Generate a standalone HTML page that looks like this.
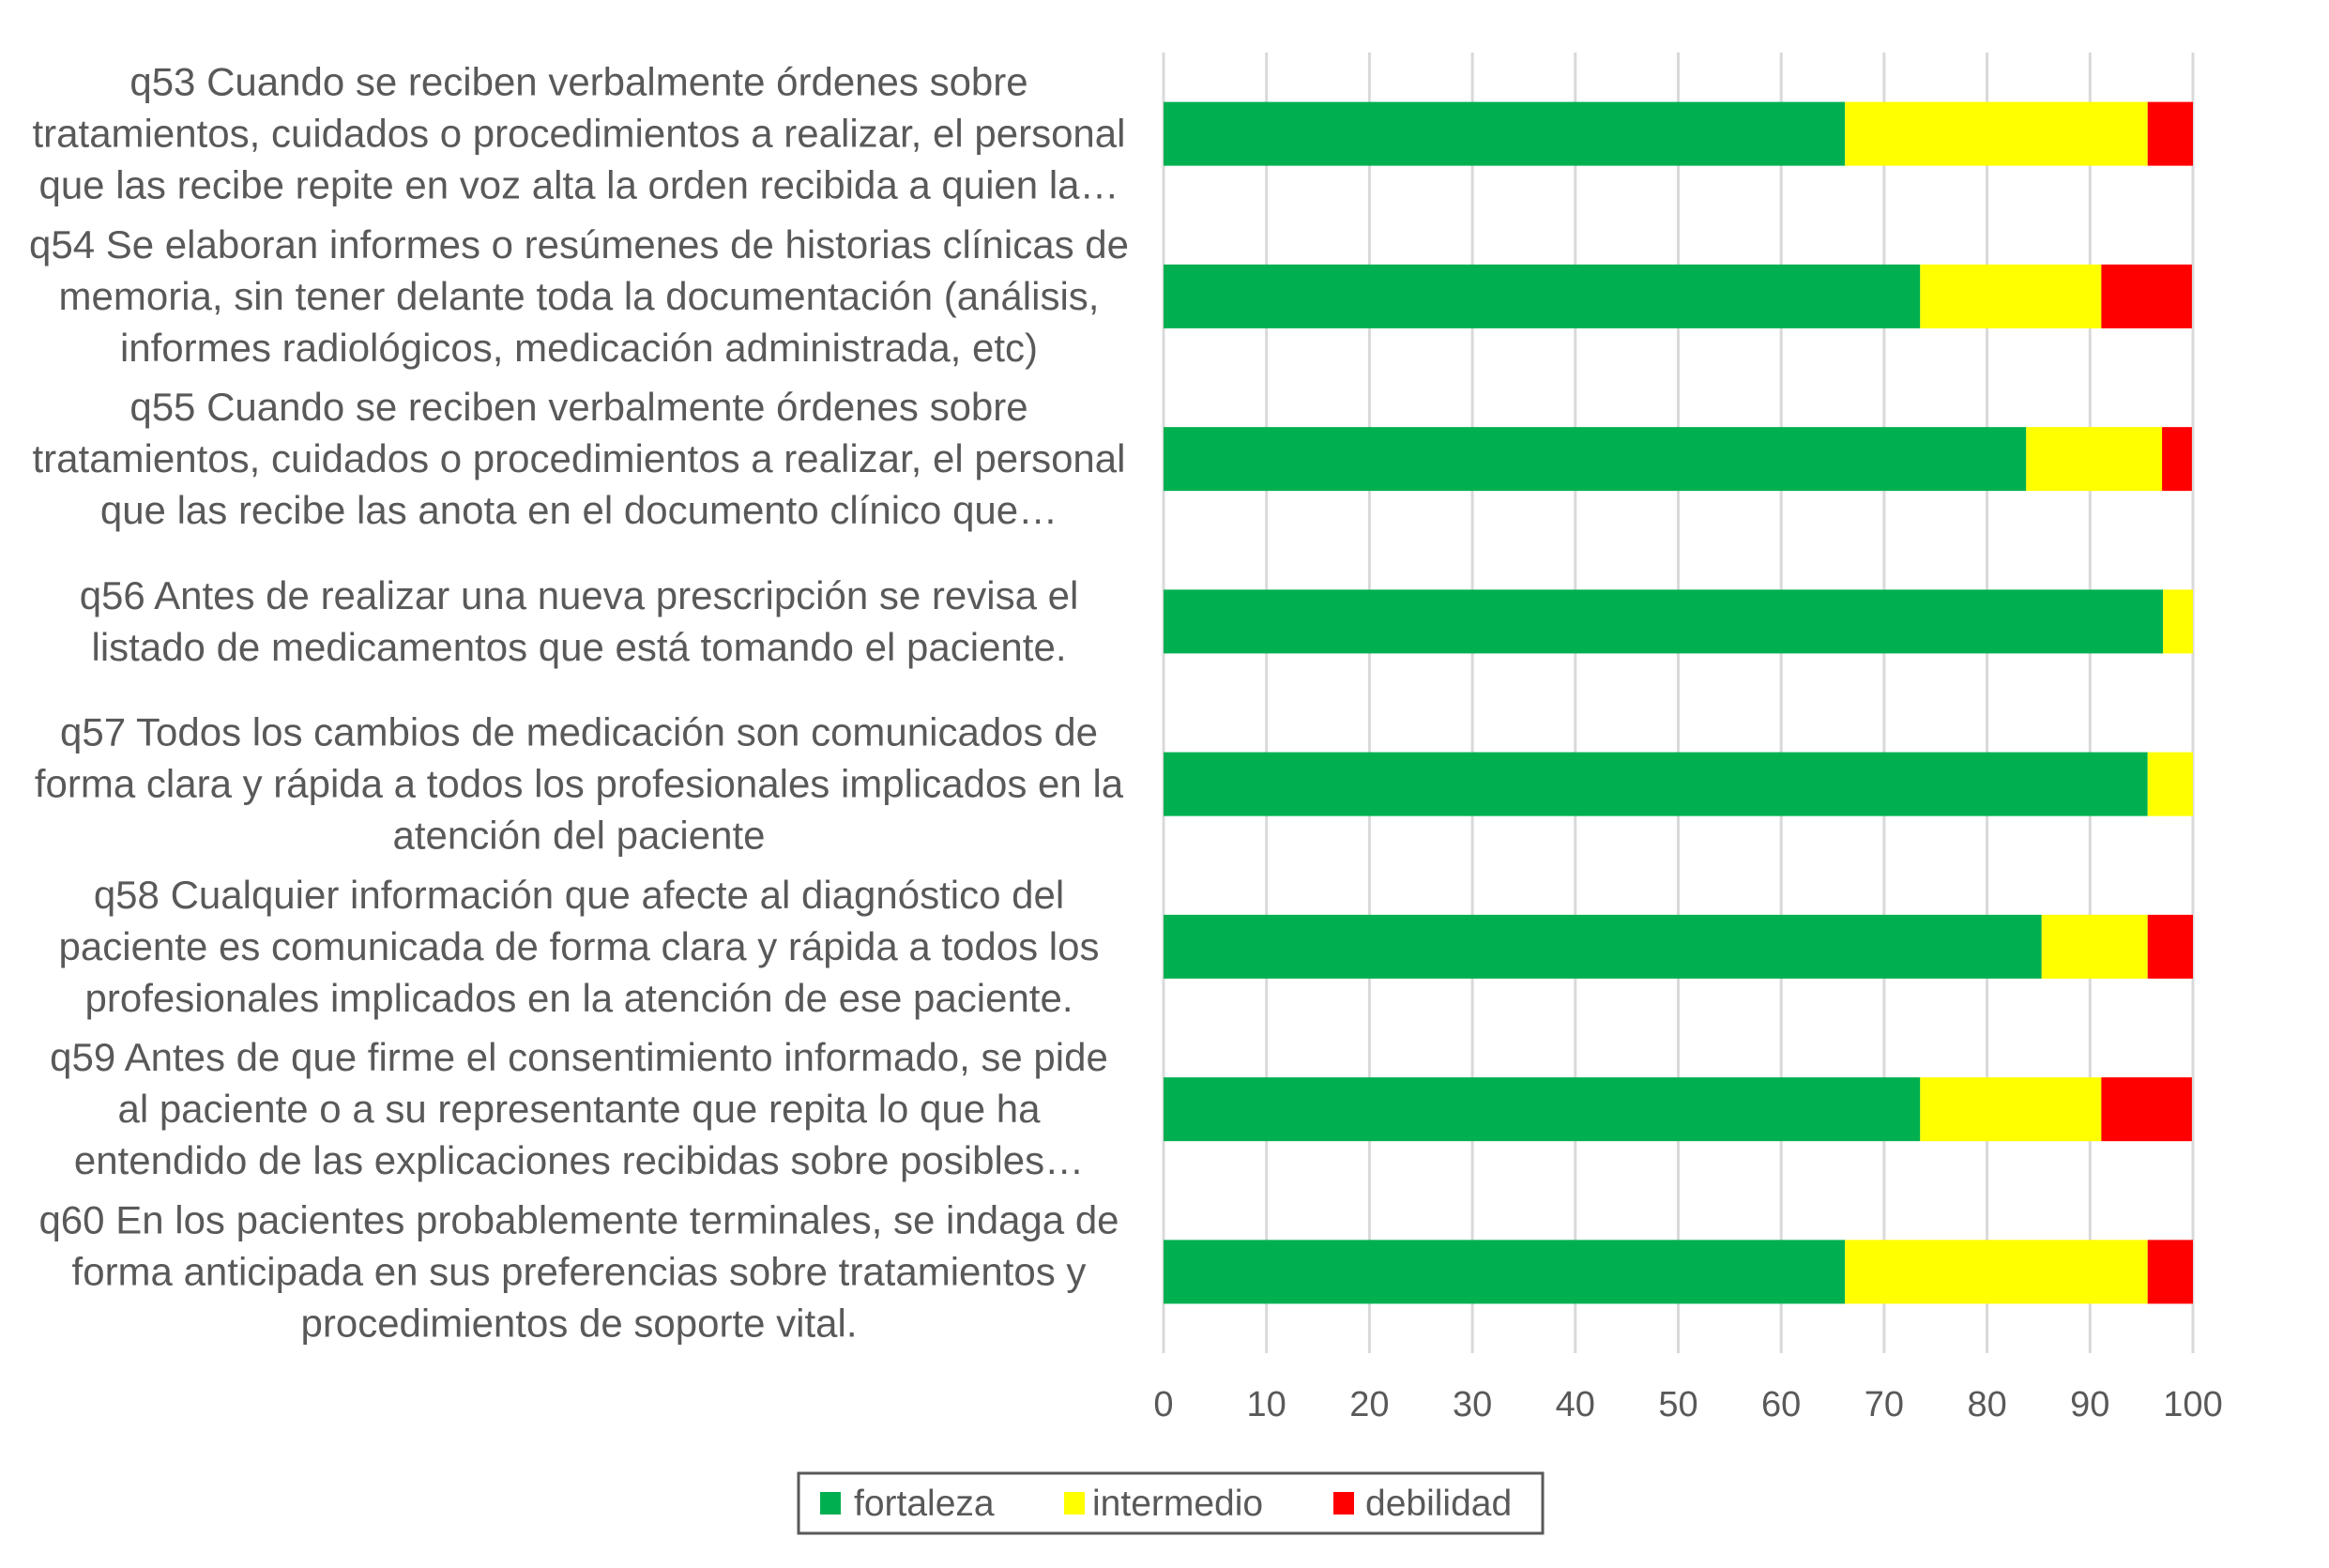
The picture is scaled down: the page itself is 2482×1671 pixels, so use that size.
<!DOCTYPE html>
<html><head><meta charset="utf-8"><style>
body{margin:0;background:#fff;}
svg{display:block;font-family:"Liberation Sans",Arial,sans-serif;}
</style></head><body>
<svg id="chart" width="2482" height="1671" viewBox="0 0 2482 1671" xmlns="http://www.w3.org/2000/svg">
<rect width="2482" height="1671" fill="#fff"/>
<g id="grid"></g><g id="bars"></g><g id="labels"></g><g id="ticks"></g>
<g>
  <rect x="851" y="1570" width="793" height="64" fill="#fff" stroke="#595959" stroke-width="3"/>
  <rect x="874" y="1590" width="22" height="24" fill="#00b050"/>
  <text x="910" y="1615" font-size="39" fill="#595959">fortaleza</text>
  <rect x="1134" y="1590" width="22" height="24" fill="#ffff00"/>
  <text x="1164" y="1615" font-size="39" fill="#595959">intermedio</text>
  <rect x="1421" y="1590" width="22" height="24" fill="#ff0000"/>
  <text x="1455" y="1615" font-size="39" fill="#595959">debilidad</text>
</g>
</svg>
<script>
const categories = [
 ["q53 Cuando se reciben verbalmente órdenes sobre","tratamientos, cuidados o procedimientos a realizar, el personal","que las recibe repite en voz alta la orden recibida a quien la…"],
 ["q54 Se elaboran informes o resúmenes de historias clínicas de","memoria, sin tener delante toda la documentación (análisis,","informes radiológicos, medicación administrada, etc)"],
 ["q55 Cuando se reciben verbalmente órdenes sobre","tratamientos, cuidados o procedimientos a realizar, el personal","que las recibe las anota en el documento clínico que…"],
 ["q56 Antes de realizar una nueva prescripción se revisa el","listado de medicamentos que está tomando el paciente."],
 ["q57 Todos los cambios de medicación son comunicados de","forma clara y rápida a todos los profesionales implicados en la","atención del paciente"],
 ["q58 Cualquier información que afecte al diagnóstico del","paciente es comunicada de forma clara y rápida a todos los","profesionales implicados en la atención de ese paciente."],
 ["q59 Antes de que firme el consentimiento informado, se pide","al paciente o a su representante que repita lo que ha","entendido de las explicaciones recibidas sobre posibles…"],
 ["q60 En los pacientes probablemente terminales, se indaga de","forma anticipada en sus preferencias sobre tratamientos y","procedimientos de soporte vital."]
];
const fortaleza = [66.2, 73.5, 83.8, 97.1, 95.6, 85.3, 73.5, 66.2];
const intermedio = [29.4, 17.6, 13.2, 2.9, 4.4, 10.3, 17.6, 29.4];
const debilidad = [4.4, 8.8, 2.9, 0, 0, 4.4, 8.8, 4.4];
const tickValues = [0,10,20,30,40,50,60,70,80,90,100];

const NS="http://www.w3.org/2000/svg";
const X0=1240, X1=2337, Y0=56, Y1=1442;
const xs=v=>X0+(X1-X0)*v/100;
const band=(Y1-Y0)/categories.length;
const yc=i=>Y0+band*(i+0.5);
const barH=68;
function mk(tag,attrs,parent){const e=document.createElementNS(NS,tag);for(const k in attrs)e.setAttribute(k,attrs[k]);document.getElementById(parent).appendChild(e);return e;}

tickValues.forEach(t=>{
  const l=mk('line',{x1:xs(t),x2:xs(t),y1:Y0,y2:Y1,stroke:'#d9d9d9','stroke-width':3},'grid');
  
  
  const tx=mk('text',{x:xs(t),y:1509,'text-anchor':'middle','font-size':38,fill:'#595959'},'ticks');
  tx.textContent=t;
  
  
});
const series=[[fortaleza,'#00b050','fortaleza'],[intermedio,'#ffff00','intermedio'],[debilidad,'#ff0000','debilidad']];
categories.forEach((lines,i)=>{
  let acc=0;
  series.forEach(([vals,col,nm])=>{
    const v=vals[i];
    if(v>0){
      const r=mk('rect',{x:xs(acc),y:yc(i)-barH/2,width:xs(acc+v)-xs(acc),height:barH,fill:col},'bars');
      
      
    }
    acc+=v;
  });
  const n=lines.length;
  lines.forEach((s,j)=>{
    const t=mk('text',{x:617,y:yc(i)+(j-(n-1)/2)*55+14,'text-anchor':'middle','font-size':42,fill:'#595959'},'labels');
    t.textContent=s;
    
    
  });
});
</script>
</body></html>
